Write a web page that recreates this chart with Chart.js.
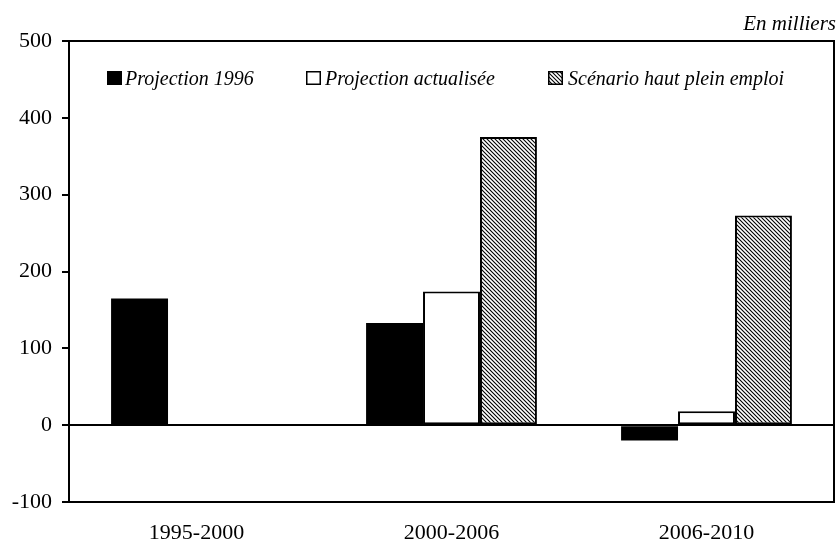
<!DOCTYPE html>
<html><head><meta charset="utf-8">
<script src="https://cdn.jsdelivr.net/npm/chart.js@4.4.0/dist/chart.umd.min.js"></script>
<style>html,body{margin:0;padding:0;background:#fff}#wrap{width:839px;height:544px;position:relative}</style>
</head><body><div id="wrap"><canvas id="c" width="839" height="544"></canvas></div>
<script>
const categories = ['1995-2000', '2000-2006', '2006-2010'];
const projection1996 = [165, 133, -20];
const projectionActualisee = [null, 174, 18];
const scenarioHaut = [null, 375, 273];
const seriesLabels = ['Projection 1996', 'Projection actualisée', 'Scénario haut plein emploi'];
const yTicks = [-100, 0, 100, 200, 300, 400, 500];
const unitLabel = 'En milliers';

function hatch() {
  const p = document.createElement('canvas');
  p.width = 4; p.height = 4;
  const g = p.getContext('2d');
  g.fillStyle = '#fff'; g.fillRect(0,0,4,4);
  g.strokeStyle = '#000'; g.lineWidth = 1.1;
  g.beginPath();
  g.moveTo(-1,-1); g.lineTo(5,5);
  g.moveTo(-1,3); g.lineTo(1,5);
  g.moveTo(3,-1); g.lineTo(5,1);
  g.stroke();
  return g.createPattern(p, 'repeat');
}
const ctx = document.getElementById('c').getContext('2d');
const hatchPat = hatch();
const SERIF = '"Liberation Serif", "Times New Roman", serif';

const framePlugin = {
  id: 'frame',
  afterDraw(chart) {
    const a = chart.chartArea, c = chart.ctx;
    c.save();
    c.strokeStyle = '#000'; c.lineWidth = 2;
    c.strokeRect(a.left, a.top, a.right - a.left, a.bottom - a.top);
    // unit label
    c.font = 'italic 21px ' + SERIF;
    c.fillStyle = '#000'; c.textAlign = 'right'; c.textBaseline = 'alphabetic';
    c.fillText(unitLabel, 836, 30);
    // legend
    const items = [[107, 125, 0], [306, 325, 1], [548, 568, 2]];
    c.font = 'italic 20px ' + SERIF;
    c.textAlign = 'left';
    items.forEach(([bx, tx, i]) => {
      const ds = chart.data.datasets[i];
      c.fillStyle = ds.backgroundColor;
      c.fillRect(bx, 71, 15, 14);
      c.lineWidth = 1.5; c.strokeStyle = '#000';
      c.strokeRect(bx + 0.75, 71.75, 13.5, 12.5);
      c.fillStyle = '#000';
      c.fillText(seriesLabels[i], tx, 85);
    });
    c.restore();
  }
};

new Chart(ctx, {
  type: 'bar',
  data: {
    labels: categories,
    datasets: [
      { label: seriesLabels[0], data: projection1996, backgroundColor: '#000', borderColor: '#000', borderWidth: 0 },
      { label: seriesLabels[1], data: projectionActualisee, backgroundColor: '#fff', borderColor: '#000', borderWidth: 2 },
      { label: seriesLabels[2], data: scenarioHaut, backgroundColor: hatchPat, borderColor: '#000', borderWidth: 2 }
    ]
  },
  options: {
    responsive: false,
    animation: false,
    events: [],
    layout: { padding: { top: 41, right: 5, left: 0, bottom: 0 } },
    datasets: { bar: { categoryPercentage: 0.67, barPercentage: 1.0, borderSkipped: false } },
    plugins: { legend: { display: false }, tooltip: { enabled: false } },
    scales: {
      x: {
        grid: { display: false, drawTicks: false },
        border: { display: false },
        ticks: { padding: 18, color: '#000', font: { family: SERIF, size: 22 } },
        afterFit(s) { s.height = 42; }
      },
      y: {
        min: -100, max: 500,
        afterBuildTicks(s) { s.ticks = yTicks.map(v => ({ value: v })); },
        grid: {
          color: c => (c.tick && c.tick.value === 0) ? '#000' : 'rgba(0,0,0,0)',
          lineWidth: 2, tickColor: '#000', tickLength: 7, drawTicks: true
        },
        border: { display: false },
        ticks: { padding: 10, color: '#000', font: { family: SERIF, size: 22 } },
        afterFit(s) { s.width = 69; }
      }
    }
  },
  plugins: [framePlugin]
});
</script></body></html>
